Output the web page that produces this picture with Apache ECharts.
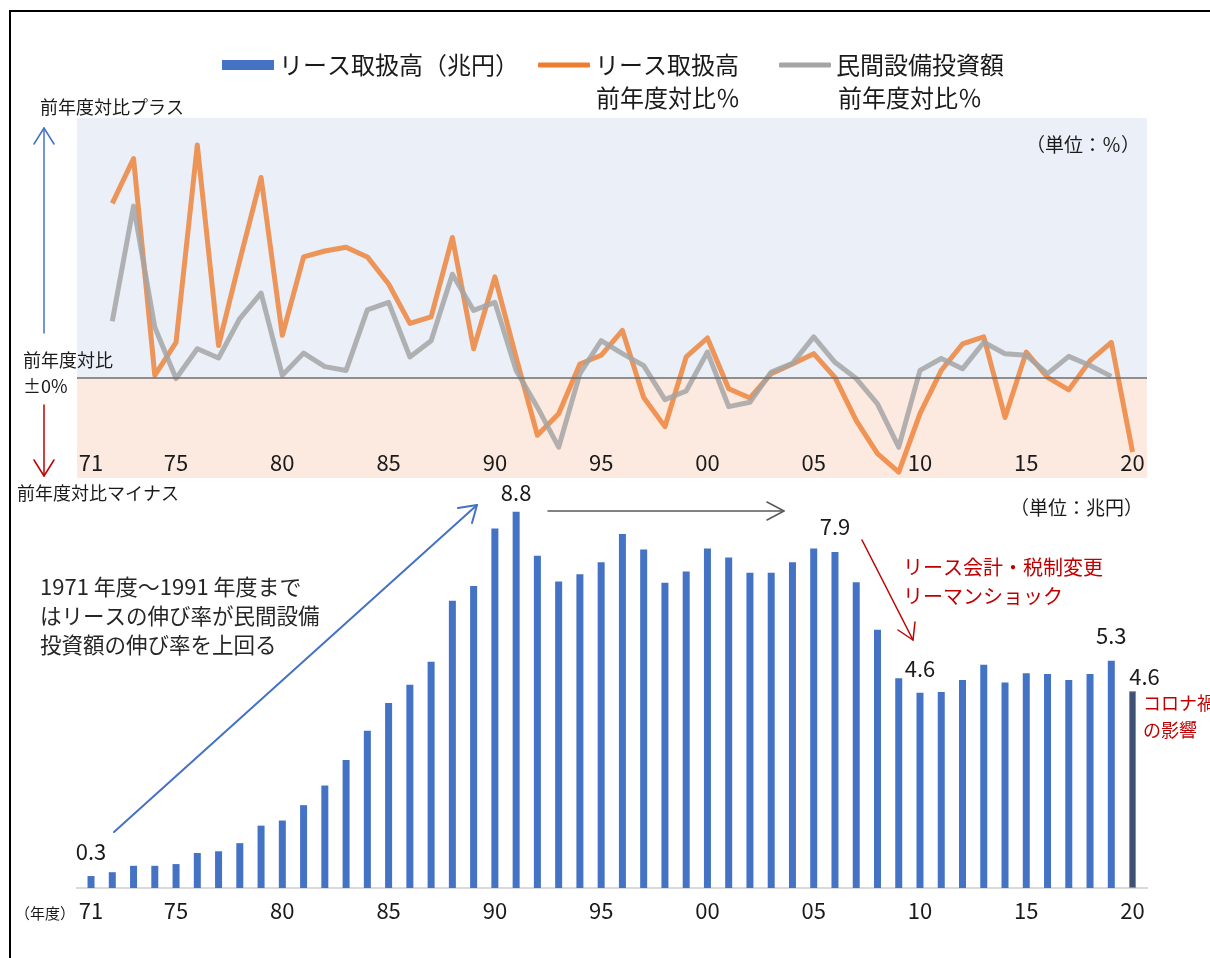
<!DOCTYPE html>
<html>
<head>
<meta charset="utf-8">
<script src="https://cdn.jsdelivr.net/npm/echarts@6/dist/echarts.min.js"></script>
<style>
html,body{margin:0;padding:0;background:#fff;}
#chart{width:1210px;height:958px;}
</style>
</head>
<body>
<div id="chart"></div>
<script>
// ---------- data ----------
var years = [1971,1972,1973,1974,1975,1976,1977,1978,1979,1980,
             1981,1982,1983,1984,1985,1986,1987,1988,1989,1990,
             1991,1992,1993,1994,1995,1996,1997,1998,1999,2000,
             2001,2002,2003,2004,2005,2006,2007,2008,2009,2010,
             2011,2012,2013,2014,2015,2016,2017,2018,2019,2020];

// リース取扱高（兆円）
var leaseVolume = [0.28,0.37,0.52,0.52,0.56,0.82,0.86,1.05,1.46,1.58,
                   1.94,2.40,3.00,3.68,4.33,4.76,5.30,6.73,7.07,8.42,
                   8.81,7.78,7.18,7.35,7.63,8.29,7.93,7.15,7.41,7.95,
                   7.74,7.38,7.38,7.63,7.95,7.87,7.16,6.05,4.91,4.57,
                   4.59,4.87,5.23,4.81,5.03,5.01,4.87,5.01,5.32,4.61];

// リース取扱高 前年度対比% (1972-2020)
var leaseGrowthYears = years.slice(1);
var leaseGrowth = [32.3,40.6,0.5,6.6,43.1,6.0,21.8,37.1,7.9,
                   22.4,23.5,24.2,22.4,17.4,10.1,11.3,26.0,5.4,18.7,
                   3.8,-10.6,-6.6,2.6,4.2,8.8,-3.6,-9.0,3.9,7.4,
                   -2.0,-3.7,0.8,2.6,4.5,0.1,-7.9,-14.0,-17.4,-6.6,
                   1.4,6.3,7.6,-7.3,4.8,0.1,-2.2,3.2,6.6,-13.7];

// 民間設備投資額 前年度対比% (1972-2019)
var capexGrowthYears = years.slice(1, 49);
var capexGrowth = [10.5,31.8,9.4,-0.1,5.4,3.7,11.0,15.7,0.5,
                   4.6,2.1,1.4,12.6,14.0,3.9,6.9,19.2,12.5,14.0,
                   1.4,-5.4,-12.8,0.8,6.9,4.5,2.3,-4.0,-2.4,4.8,
                   -5.3,-4.5,1.1,2.7,7.6,2.9,-0.1,-4.8,-12.8,1.4,
                   3.6,1.7,6.6,4.5,4.2,0.8,4.0,2.3,0.3];

var tickYears = [1971,1975,1980,1985,1990,1995,2000,2005,2010,2015,2020];
var labeledYears = [1971,1991,2006,2010,2019,2020];
var highlightYear = 2020;

var nameBar = 'リース取扱高（兆円）';
var nameLease = 'リース取扱高\n前年度対比％';
var nameCapex = '民間設備投資額\n前年度対比％';

// ---------- styles ----------
var FONT = '"Noto Sans CJK JP","Noto Sans",sans-serif';
var labelStyleByYear = {
  1971: {distance: 13},
  1991: {distance: 8},
  2006: {distance: 14},
  2010: {distance: 13},
  2019: {distance: 14},
  2020: {distance: 4, offset: [12, 0]}
};

var barData = years.map(function (y, i) {
  var item = {value: [y, leaseVolume[i]]};
  if (labeledYears.indexOf(y) >= 0) {
    var ls = labelStyleByYear[y] || {};
    item.label = {
      show: true, position: 'top',
      distance: ls.distance || 12,
      offset: ls.offset || [0, 0],
      fontSize: 22, color: '#1a1a1a', fontFamily: FONT,
      formatter: function (p) { return p.value[1].toFixed(1); }
    };
  }
  if (y === highlightYear) {
    item.itemStyle = {color: '#3E5075', borderColor: '#8C8C8C', borderWidth: 1};
  }
  return item;
});
var leaseData = leaseGrowthYears.map(function (y, i) { return [y, leaseGrowth[i]]; });
var capexData = capexGrowthYears.map(function (y, i) { return [y, capexGrowth[i]]; });

var X_MIN = 1970.34, X_MAX = 2020.68;
var Y_MIN = -18.5, Y_MAX = 48.1;

function txt(text, x, y, size, color, align) {
  return {type: 'text', silent: true, z: 100,
    style: {text: text, x: x, y: y, fill: color || '#1a1a1a',
      font: size + 'px ' + FONT, align: align || 'left', verticalAlign: 'middle'}};
}
function seg(points, color, w) {
  return {type: 'polyline', silent: true, z: 100,
    shape: {points: points},
    style: {stroke: color, lineWidth: w, fill: null, lineCap: 'round', lineJoin: 'round'}};
}

function legendAt(name, left, icon, itemHeight) {
  return {
    orient: 'horizontal', top: 53, left: left,
    itemWidth: 52, itemHeight: itemHeight, itemGap: 0,
    padding: 0, selectedMode: false,
    textStyle: {fontSize: 24, color: '#1a1a1a', fontFamily: FONT},
    formatter: function (n) { return n.split('\n')[0]; },
    data: [{name: name, icon: icon}]
  };
}

var chart = echarts.init(document.getElementById('chart'));
chart.setOption({
  animation: false,
  backgroundColor: '#ffffff',
  textStyle: {fontFamily: FONT},
  legend: [
    legendAt(nameBar, 222, 'rect', 10),
    legendAt(nameLease, 538, 'roundRect', 5),
    legendAt(nameCapex, 779, 'roundRect', 5)
  ],
  grid: [
    {left: 77, width: 1070, top: 118, height: 360},
    {left: 77, width: 1070, top: 503.7, height: 384.3}
  ],
  xAxis: [
    {type: 'value', gridIndex: 0, min: X_MIN, max: X_MAX, z: 20,
     axisLine: {show: false}, axisTick: {show: false}, splitLine: {show: false},
     axisLabel: {inside: true, margin: 4, fontSize: 22, color: '#1a1a1a', fontFamily: FONT,
       customValues: tickYears,
       formatter: function (v) { return String(Math.round(v)).slice(2); }}},
    {type: 'value', gridIndex: 1, min: X_MIN, max: X_MAX,
     axisLine: {show: true, onZero: false, lineStyle: {color: '#D9D9D9', width: 2}},
     axisTick: {show: false}, splitLine: {show: false},
     axisLabel: {margin: 12, fontSize: 22, color: '#1a1a1a', fontFamily: FONT,
       customValues: tickYears,
       formatter: function (v) { return String(Math.round(v)).slice(2); }}}
  ],
  yAxis: [
    {type: 'value', gridIndex: 0, min: Y_MIN, max: Y_MAX, show: false, splitLine: {show: false}},
    {type: 'value', gridIndex: 1, min: 0, max: 9, show: false, splitLine: {show: false}}
  ],
  series: [
    {name: nameBar, type: 'bar', xAxisIndex: 1, yAxisIndex: 1,
     barWidth: 7, itemStyle: {color: '#4472C4'}, data: barData},
    {name: nameLease, type: 'line', xAxisIndex: 0, yAxisIndex: 0,
     symbol: 'none', color: '#ED7D31', itemStyle: {color: '#ED7D31'},
     lineStyle: {width: 5, color: '#ED7D31', opacity: 0.8, join: 'round'},
     data: leaseData,
     markArea: {silent: true, label: {show: false},
       data: [
         [{yAxis: 0, itemStyle: {color: '#EAEFF8', opacity: 1}}, {yAxis: Y_MAX}],
         [{yAxis: Y_MIN, itemStyle: {color: '#FCEAE0', opacity: 1}}, {yAxis: 0}]
       ]},
     markLine: {silent: true, symbol: ['none', 'none'], label: {show: false},
       lineStyle: {color: '#6E6E6E', width: 1.5, type: 'solid'},
       data: [{yAxis: 0}]}
    },
    {name: nameCapex, type: 'line', xAxisIndex: 0, yAxisIndex: 0,
     symbol: 'none', color: '#A5A5A5', itemStyle: {color: '#A5A5A5'},
     lineStyle: {width: 5, color: '#A5A5A5', opacity: 0.85, join: 'round'},
     data: capexData}
  ],
  graphic: [
    {type: 'rect', silent: true, z: 100, shape: {x: 10, y: 11, width: 1260, height: 1000},
     style: {fill: null, stroke: '#000', lineWidth: 2}},
    txt('前年度対比％', 596, 98, 24),
    txt('前年度対比％', 838, 98, 24),
    txt('前年度対比プラス', 40, 107, 18),
    seg([[44, 333], [44, 128]], '#4472C4', 1.5),
    seg([[34, 144], [44, 128], [54, 144]], '#4472C4', 1.5),
    txt('前年度対比', 23, 360, 18),
    txt('±0%', 23, 386, 18),
    seg([[44, 405], [44, 476]], '#C00000', 1.5),
    seg([[34, 460], [44, 476], [54, 460]], '#C00000', 1.5),
    txt('前年度対比マイナス', 17, 493, 18),
    txt('（単位：％）', 1140, 145, 19, '#1a1a1a', 'right'),
    txt('（単位：兆円）', 1143, 508, 19, '#1a1a1a', 'right'),
    seg([[548, 511], [784, 511]], '#595959', 1.5),
    seg([[767, 502], [784, 511], [767, 520]], '#595959', 1.5),
    seg([[114, 832], [477, 505]], '#4472C4', 2),
    seg([[458, 508], [477, 505], [472, 523]], '#4472C4', 2),
    seg([[862, 540], [913, 640]], '#C00000', 1.5),
    seg([[898, 630], [913, 640], [915, 622]], '#C00000', 1.5),
    txt('1971 年度～1991 年度まで', 40, 587, 22, '#262626'),
    txt('はリースの伸び率が民間設備', 40, 616, 21.5, '#262626'),
    txt('投資額の伸び率を上回る', 40, 645, 21.5, '#262626'),
    txt('リース会計・税制変更', 903, 567, 20, '#C00000'),
    txt('リーマンショック', 903, 596, 20, '#C00000'),
    txt('コロナ禍', 1143, 703, 18, '#C00000'),
    txt('の影響', 1143, 730, 18, '#C00000'),
    txt('（年度）', 15, 913, 15)
  ]
});
</script>
</body>
</html>
